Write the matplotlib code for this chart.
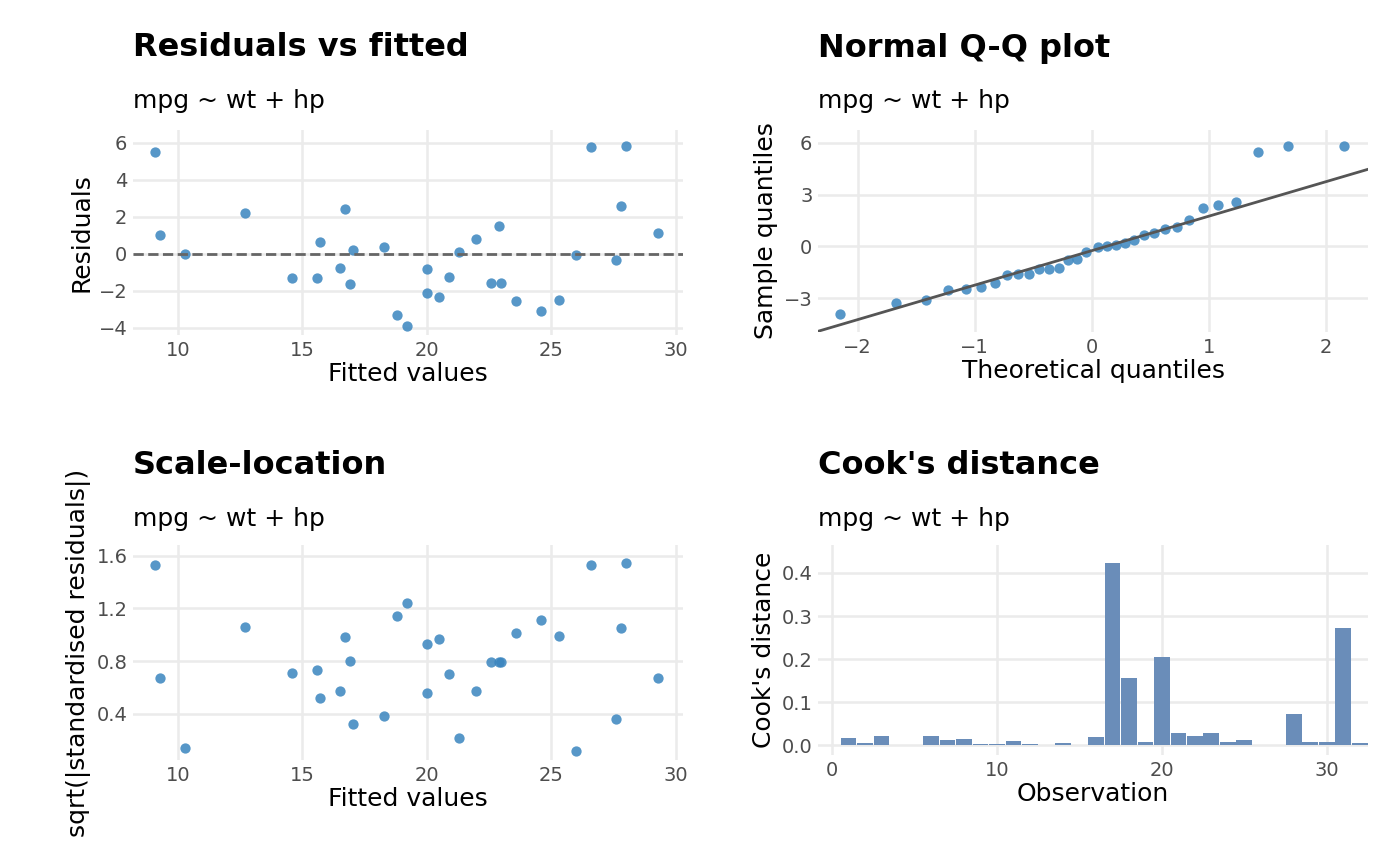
import numpy as np
import matplotlib.pyplot as plt

# values
fitted = [9.1, 9.3, 10.3, 12.7, 14.6, 15.6, 15.7, 16.5, 16.7, 16.9, 17.05, 18.3,
          18.8, 19.2, 20.0, 20.0, 20.5, 20.9, 21.3, 22.0, 22.6, 22.9, 23.0, 23.6,
          24.6, 25.3, 26.0, 26.6, 27.6, 27.8, 28.0, 29.3]
resid = [5.5, 1.0, 0.0, 2.2, -1.3, -1.3, 0.65, -0.75, 2.4, -1.65, 0.2, 0.35,
         -3.3, -3.9, -0.8, -2.15, -2.35, -1.25, 0.1, 0.8, -1.6, 1.5, -1.6, -2.55,
         -3.1, -2.5, -0.05, 5.8, -0.35, 2.6, 5.85, 1.1]
sqrt_std = [1.53, 0.67, 0.14, 1.06, 0.71, 0.73, 0.52, 0.57, 0.98, 0.80, 0.32, 0.38,
            1.14, 1.24, 0.56, 0.93, 0.97, 0.70, 0.22, 0.57, 0.79, 0.79, 0.79, 1.01,
            1.11, 0.99, 0.12, 1.53, 0.36, 1.05, 1.54, 0.67]
theo_half = [2.154, 1.676, 1.418, 1.230, 1.078, 0.947, 0.831, 0.725,
             0.627, 0.535, 0.448, 0.364, 0.283, 0.204, 0.127, 0.050]
theo_q = [-v for v in theo_half] + theo_half[::-1]
qq_line = (-0.25, 2.0)  # intercept, slope
cooks = [0.016, 0.006, 0.02, 0.0, 0.0, 0.02, 0.013, 0.015, 0.003, 0.002, 0.01, 0.002,
         0.0, 0.006, 0.0, 0.018, 0.423, 0.157, 0.008, 0.205, 0.027, 0.02, 0.027, 0.008,
         0.012, 0.0, 0.0, 0.073, 0.008, 0.007, 0.272, 0.006]
obs = list(range(1, 33))

W, H = 1400, 866
fig = plt.figure(figsize=(14, 8.66), dpi=100)
pt_col = '#3A85BF'
grid_col = '#EBEBEB'


def panel(x0, y0, x1, y1):
    ax = fig.add_axes([x0 / W, 1 - y1 / H, (x1 - x0) / W, (y1 - y0) / H])
    for s in ax.spines.values():
        s.set_visible(False)
    ax.grid(True, color=grid_col, lw=1.8)
    ax.set_axisbelow(True)
    ax.tick_params(length=0, labelsize=14, labelcolor='#4D4D4D', pad=4)
    return ax


def heading(ax, x, y, title):
    fig.text(x / W, 1 - y / H, title, fontsize=23, fontweight='bold', va='center')
    fig.text(x / W, 1 - (y + 53) / H, 'mpg ~ wt + hp', fontsize=18, va='center')


ax1 = panel(133, 130, 683, 335)
ax1.scatter(fitted, resid, s=55, color=pt_col, alpha=0.85, lw=0)
ax1.axhline(0, color='#666666', ls='--', lw=2)
ax1.set_xlim(8.2, 30.3)
ax1.set_ylim(-4.4, 6.7)
ax1.set_xticks([10, 15, 20, 25, 30])
ax1.set_yticks([-4, -2, 0, 2, 4, 6])
ax1.set_xlabel('Fitted values', fontsize=18, labelpad=2)
ax1.set_ylabel('Residuals', fontsize=18, labelpad=4)
heading(ax1, 133, 48, 'Residuals vs fitted')

ax2 = panel(818, 130, 1368, 332)
ax2.scatter(theo_q, sorted(resid), s=55, color=pt_col, alpha=0.85, lw=0)
xs = np.array([-2.34, 2.36])
ax2.plot(xs, qq_line[0] + qq_line[1] * xs, color='#555555', lw=2)
ax2.set_xlim(-2.34, 2.36)
ax2.set_ylim(-4.97, 6.75)
ax2.set_xticks([-2, -1, 0, 1, 2])
ax2.set_yticks([-3, 0, 3, 6])
ax2.set_xlabel('Theoretical quantiles', fontsize=18, labelpad=2)
ax2.set_ylabel('Sample quantiles', fontsize=18, labelpad=4)
heading(ax2, 818, 48, 'Normal Q-Q plot')

ax3 = panel(133, 545, 683, 760)
ax3.scatter(fitted, sqrt_std, s=55, color=pt_col, alpha=0.85, lw=0)
ax3.set_xlim(8.2, 30.3)
ax3.set_ylim(0.05, 1.68)
ax3.set_xticks([10, 15, 20, 25, 30])
ax3.set_yticks([0.4, 0.8, 1.2, 1.6])
ax3.set_xlabel('Fitted values', fontsize=18, labelpad=2)
ax3.set_ylabel('sqrt(|standardised residuals|)', fontsize=18, labelpad=4)
heading(ax3, 133, 466, 'Scale-location')

ax4 = panel(818, 545, 1368, 755)
ax4.bar(obs, cooks, width=0.95, color='#6A8DB9')
ax4.set_xlim(-0.85, 32.5)
ax4.set_ylim(-0.023, 0.465)
ax4.set_xticks([0, 10, 20, 30])
ax4.set_yticks([0.0, 0.1, 0.2, 0.3, 0.4])
ax4.set_xlabel('Observation', fontsize=18, labelpad=2)
ax4.set_ylabel("Cook's distance", fontsize=18, labelpad=4)
heading(ax4, 818, 466, "Cook's distance")

fig.savefig('out.png', dpi=100)
